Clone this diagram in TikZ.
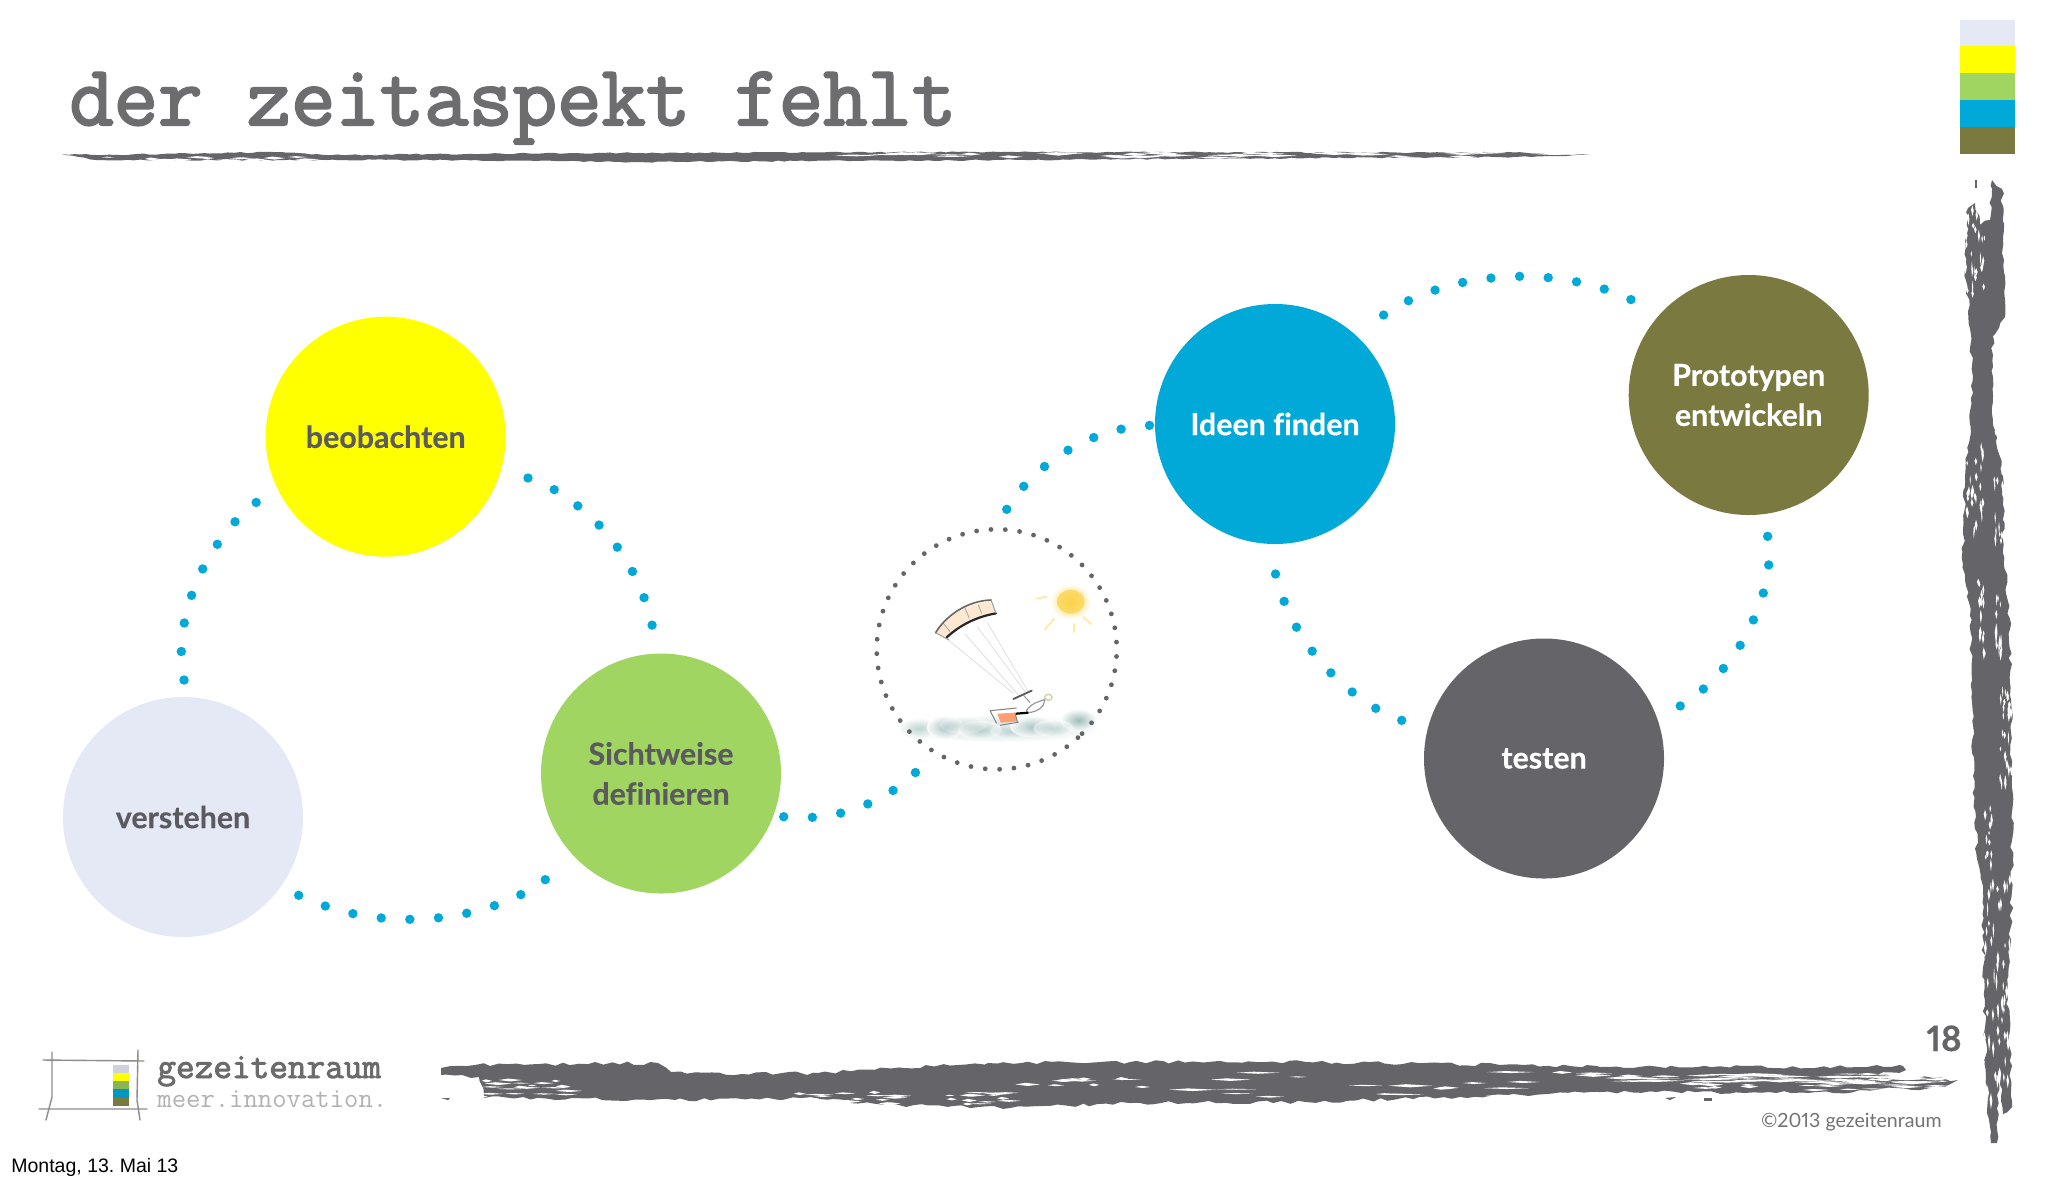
\documentclass[tikz,border=0pt]{standalone}
\usepackage{fontspec}
\setmainfont{Lato}[Ligatures=NoCommon,Numbers=Proportional]
\newfontfamily\slabfam{Latin Modern Mono}[FakeBold=2.5]
\newfontfamily\slabthin{Latin Modern Mono}
\newfontfamily\arialfam{Liberation Sans}
\usetikzlibrary{decorations.pathmorphing}
\definecolor{cPale}{HTML}{E4E9F5}
\definecolor{cYellow}{HTML}{FFFF00}
\definecolor{cGreen}{HTML}{A1D562}
\definecolor{cBlue}{HTML}{00A9D7}
\definecolor{cOlive}{HTML}{797940}
\definecolor{cGrey}{HTML}{656468}
\definecolor{cText}{HTML}{5A5A5F}
\definecolor{cSea}{HTML}{9DBDBA}
\tikzset{
  circ/.style={circle,minimum size=120pt,inner sep=0pt,align=center,font=\bfseries\addfontfeature{FakeBold=0.35}\fontsize{15.2}{20}\selectfont},
  darktext/.style={text=cText},
  lighttext/.style={text=white},
  bluedots/.style={draw=cBlue,line width=4.7pt,line cap=round,dash pattern=on 0pt off 14.33pt},
  rough/.style={decorate,decoration={random steps,segment length=#1,amplitude=0.9pt}},
  fine/.style={decorate,decoration={random steps,segment length=#1,amplitude=0.35pt}},
  rope/.style={draw=#1,line cap=round,line width=0.4pt},
}
\newcommand{\hsliv}[6]{\foreach \k in {1,...,#1}{%
  \pgfmathsetmacro\sxx{#2+rnd*(#3-#2)}%
  \pgfmathsetmacro\syy{#4+rnd*(#5-#4)}%
  \pgfmathsetmacro\slen{#6*(0.3+0.7*rnd)}%
  \pgfmathsetmacro\shgt{0.5+1.1*rnd}%
  \fill[white] (\sxx,\syy) -- ++(0.4*\slen,-\shgt) -- ++(0.6*\slen,\shgt) -- ++(-0.5*\slen,\shgt) -- cycle;}}
\newcommand{\vsliv}[6]{\foreach \k in {1,...,#1}{%
  \pgfmathsetmacro\sxx{#2+rnd*(#3-#2)}%
  \pgfmathsetmacro\syy{#4+rnd*(#5-#4)}%
  \pgfmathsetmacro\slen{#6*(0.3+0.7*rnd)}%
  \pgfmathsetmacro\shgt{0.5+1.0*rnd}%
  \fill[white] (\sxx,\syy) -- ++(-\shgt,0.4*\slen) -- ++(\shgt,0.6*\slen) -- ++(\shgt,-0.5*\slen) -- cycle;}}
\begin{document}
\frenchspacing
\begin{tikzpicture}[x=0.5pt,y=-0.5pt]
\useasboundingbox (0,0) rectangle (2048,1184);
\fill[white] (0,0) rectangle (2048,1184);
\pgfmathsetseed{4711}

% title
\node[anchor=base west,inner sep=0pt,text=cGrey!95!white,font=\slabfam\fontsize{43.05}{44}\selectfont] (title) at (69,125) {der zeitaspekt fehlt};

% top stroke
\fill[cGrey,fine=3pt] (62,154) -- (96,155) -- (281,152) -- (332,155) -- (574,153) -- (1000,152) -- (1316,152.5) -- (1514,152.5) -- (1591,155) -- (1514,157) -- (1237,158.5) -- (1000,160) -- (638,162) -- (446,160) -- (96,160) -- cycle;
\hsliv{38}{800}{1590}{153}{158}{50}
\hsliv{14}{62}{330}{157}{160}{30}

% colour swatches
\fill[cPale] (1960,20) rectangle (2015,46);
\fill[cYellow] (1960,46) rectangle (2015,73);
\fill[cGreen] (1960,73) rectangle (2015,100);
\fill[cBlue] (1960,100) rectangle (2015,127);
\fill[cOlive] (1960,127) rectangle (2015,154);

% right stroke
\fill[cGrey,rough=3pt] (1992,180) -- (2002,189) -- (2004,260) -- (2005,317) -- (1993,336) -- (1993,425) -- (2003,476) -- (2003,540) -- (2010,629) -- (2012,776) -- (2012,891) -- (2008,999) -- (2012,1107) -- (2003,1114) -- (1999,1060) -- (1997,1143) -- (1991,1143) -- (1987,1095) -- (1983,967) -- (1983,891) -- (1977,859) -- (1973,776) -- (1972,680) -- (1970,616) -- (1963,565) -- (1963,534) -- (1965,476) -- (1973,393) -- (1970,329) -- (1965,266) -- (1968,208) -- (1975,203) -- (1980,225) -- (1990,220) -- cycle;
\vsliv{28}{1965}{1985}{205}{290}{16}
\vsliv{30}{1966}{1984}{440}{530}{14}
\vsliv{22}{1994}{2008}{420}{540}{14}
\vsliv{18}{1978}{1986}{570}{650}{14}
\vsliv{14}{1995}{2003}{590}{650}{20}
\vsliv{26}{2000}{2012}{680}{780}{14}
\vsliv{12}{1985}{1992}{800}{870}{14}
\vsliv{55}{1984}{2010}{870}{1130}{18}
\fill[cGrey] (1975,180) rectangle ++(2,8);

% bottom stroke
\fill[cGrey,rough=4pt] (441,1068) -- (475,1065) -- (658,1063) -- (671,1072) -- (742,1074) -- (818,1073) -- (903,1068) -- (988,1063) -- (1130,1062) -- (1306,1062) -- (1500,1065) -- (1600,1067) -- (1867,1067) -- (1903,1066) -- (1906,1070) -- (1877,1075) -- (1933,1078) -- (1958,1080) -- (1943,1088) -- (1860,1090) -- (1833,1093) -- (1657,1092) -- (1600,1092) -- (1500,1096) -- (1306,1102) -- (1130,1103) -- (1010,1108) -- (899,1105) -- (800,1098) -- (675,1100) -- (484,1098) -- (479,1077) -- (441,1075) -- cycle;
\hsliv{20}{478}{560}{1080}{1098}{28}
\hsliv{30}{790}{1000}{1092}{1106}{30}
\hsliv{12}{1010}{1130}{1076}{1086}{30}
\hsliv{24}{1130}{1600}{1072}{1098}{50}
\hsliv{45}{1600}{1900}{1074}{1083}{60}
\hsliv{22}{1660}{1930}{1083}{1091}{36}
\hsliv{14}{1840}{1950}{1072}{1082}{30}
\fill[cGrey] (441,1098) -- (448,1100) -- (450,1098) -- cycle;
\fill[cGrey] (1665,1098) -- (1676,1097) -- (1670,1100) -- cycle;
\fill[cGrey] (1704,1098) rectangle ++(8,2.5);

% logo
\draw[black!45,line width=0.7pt,line cap=round]
  (43,1060) -- (144,1061)
  (39,1109) -- (147,1109)
  (52,1052) -- (52,1097) -- (46,1120)
  (138,1050) -- (137,1100) -- (140,1120);
\fill[black!10!cPale] (113,1065) rectangle (129,1073);
\fill[cYellow] (113,1073) rectangle (129,1081);
\fill[cGreen!85!black] (113,1081) rectangle (129,1089);
\fill[cBlue!90!black] (113,1089) rectangle (129,1098);
\fill[cOlive] (113,1098) rectangle (129,1106);
\node[anchor=base west,inner sep=0pt,text=black!58,font=\slabfam\fontsize{18.1}{20}\selectfont] (logoa) at (157,1078) {gezeitenraum};
\node[anchor=base west,inner sep=0pt,text=black!30,font=\slabthin\fontsize{13.95}{15}\selectfont] (logob) at (157,1107) {meer.innovation.};

% footers
\node[anchor=base west,inner sep=0pt,text=black,font=\arialfam\fontsize{9.75}{12}\selectfont] (date) at (11,1172.5) {Montag, 13. Mai 13};
\node[anchor=base east,inner sep=0pt,text=cGrey,font=\bfseries\addfontfeature{FakeBold=0.4}\fontsize{17.5}{20}\selectfont] (page) at (1962,1051) {18};
\node[anchor=base east,inner sep=0pt,text=black!55,font=\fontsize{9.8}{12}\selectfont] (copy) at (1942,1127.5) {©2013 gezeitenraum};

% big circles
\node[circ,fill=cPale,darktext] (verstehen) at (183,817) {verstehen};
\node[circ,fill=cYellow,darktext] (beobachten) at (385.7,436.7) {beobachten};
\node[circ,fill=cGreen,darktext] (sichtweise) at (661,773.5) {Sichtweise\\definieren};
\node[circ,fill=cBlue,lighttext] (ideen) at (1275,424) {Ideen finden};
\node[circ,fill=cOlive,lighttext] (proto) at (1748.7,395) {Prototypen\\entwickeln};
\node[circ,fill=cGrey,lighttext] (testen) at (1544,758.5) {testen};

% kite illustration (zoom coordinates: 3 units = 1 px)
\coordinate (kite) at (996.7,649.3);
\begin{scope}[shift={(770,400)},x=0.16667pt,y=-0.16667pt]
  % water
  \shade[inner color=cSea,outer color=white,opacity=.55] (690,985) ellipse (300 and 42);
  \foreach \wx/\wy/\wa/\wb/\wo in {445/985/60/32/.6, 525/982/55/36/.85, 630/990/65/28/.6, 720/995/60/22/.4, 790/980/70/32/.75, 925/960/55/34/1, 850/985/60/26/.5, 580/975/70/26/.3}{
    \shade[inner color=cSea,outer color=white,opacity=\wo] (\wx,\wy) ellipse ({\wa} and {\wb});
  }
  % lines
  \draw[rope=black!12] (535,720) -- (730,880);
  \draw[rope=black!12] (585,702) -- (745,885);
  \draw[rope=black!12] (622,680) -- (765,875);
  \draw[rope=black!12] (652,668) -- (775,875);
  % canopy
  \fill[orange!18!white] (500,697) .. controls (530,650) and (590,610) .. (660,604) -- (676,640) .. controls (620,650) and (570,675) .. (532,715) -- cycle;
  \draw[black!35,line width=0.4pt] (584,622) -- (598,655) (625,615) -- (635,640) (520,670) -- (540,695);
  \draw[black!60,line width=0.8pt,line cap=round] (497,698) .. controls (525,650) and (590,602) .. (663,600);
  \draw[black!85,line width=1.1pt,line cap=round] (530,712) .. controls (570,675) and (620,650) .. (678,640);
  \draw[black!40,line width=0.5pt] (497,698) -- (537,720) (663,600) -- (678,640);
  % sun
  \shade[inner color=yellow!55!orange!75!white,outer color=white] (902,605) ellipse (62 and 55);
  \fill[yellow!55!orange!70!white,opacity=.7] (902,605) ellipse (42 and 36);
  \draw[yellow!60!orange!35!white,line width=0.9pt,line cap=round] (800,596) -- (830,590) (825,688) -- (853,656) (912,696) -- (913,672) (963,672) -- (940,651);
  % bar, rider, board
  \draw[black!65,line width=0.9pt,line cap=round] (730,897) -- (785,872);
  \draw[black!40,line width=0.5pt] (760,885) -- (780,908);
  \draw[black!40,line width=0.6pt,fill=white] (770,930) .. controls (790,905) and (810,905) .. (825,898) -- (820,915) .. controls (810,930) and (790,938) .. (770,938) -- cycle;
  \draw[yellow!50!black!40,line width=0.7pt] (835,892) ellipse (11 and 9);
  \draw[black,line width=1.1pt] (738,941) -- (775,938);
  \fill[orange!60!red!55!white] (682,941) -- (735,938) -- (740,964) -- (692,968) -- cycle;
  \draw[black!50,line width=0.5pt] (660,932) -- (740,924) (660,932) -- (680,970) (690,976) -- (746,966) (735,938) -- (742,966);
\end{scope}

% grey dotted ring
\foreach \n in {0,...,52}{
  \fill[cGrey] (kite) ++({47.4+\n*6.87}:120) circle (2.4);
}

% blue dotted arcs
\coordinate (a1) at (184,680); \coordinate (a2) at (257,501.7);
\draw[bluedots] plot[smooth] coordinates {(a1) (181.3,651) (184.3,622.7) (191.7,595) (203,568.3) (217.7,543.7) (235.7,521) (a2)};
\coordinate (b1) at (528,478); \coordinate (b2) at (652.3,626);
\draw[bluedots] plot[smooth] coordinates {(b1) (554.3,489.7) (578,506) (599.3,525.3) (617.7,547.7) (632.7,572) (644.3,598.3) (b2)};
\coordinate (c1) at (298.7,895.3); \coordinate (c2) at (546.3,879);
\draw[bluedots] plot[smooth] coordinates {(c1) (325.3,906) (353.3,913.7) (381.7,918) (410.3,919.3) (439.3,917.7) (467.7,913) (495.3,905.3) (522,894) (c2)};
\coordinate (d1) at (783.7,816.7); \coordinate (d2) at (916,772);
\draw[bluedots] plot[smooth] coordinates {(d1) (812.7,817.3) (841,813) (868.3,803.7) (893.7,790) (d2)};
\coordinate (e1) at (1006.7,509.3); \coordinate (e2) at (1150.3,425.3);
\draw[bluedots] plot[smooth] coordinates {(e1) (1023.7,486.3) (1044.7,466.3) (1068.3,450) (1094.3,437.3) (1121.7,429) (e2)};
\coordinate (f1) at (1383.6,315); \coordinate (f2) at (1631.9,300);
\draw[bluedots] plot[smooth] coordinates {(f1) (1408.4,300.7) (1435.3,290) (1463.2,282.3) (1491.4,278) (1520,276.3) (1548.9,277.7) (1577.5,282) (1605.1,289.3) (f2)};
\coordinate (g1) at (1767.6,536.3); \coordinate (g2) at (1679.1,706.7);
\draw[bluedots] plot[smooth] coordinates {(g1) (1768.7,565) (1763.2,593.3) (1753.2,620.3) (1739.7,646) (1722.9,669) (1702.5,689.7) (g2)};
\coordinate (h1) at (1275.5,574); \coordinate (h2) at (1402.6,720.7);
\draw[bluedots] plot[smooth] coordinates {(h1) (1284.1,601.3) (1296.5,627.3) (1312.3,651.3) (1331.3,673.3) (1352.6,692.3) (1376.4,708.7) (h2)};
\end{tikzpicture}
\end{document}
